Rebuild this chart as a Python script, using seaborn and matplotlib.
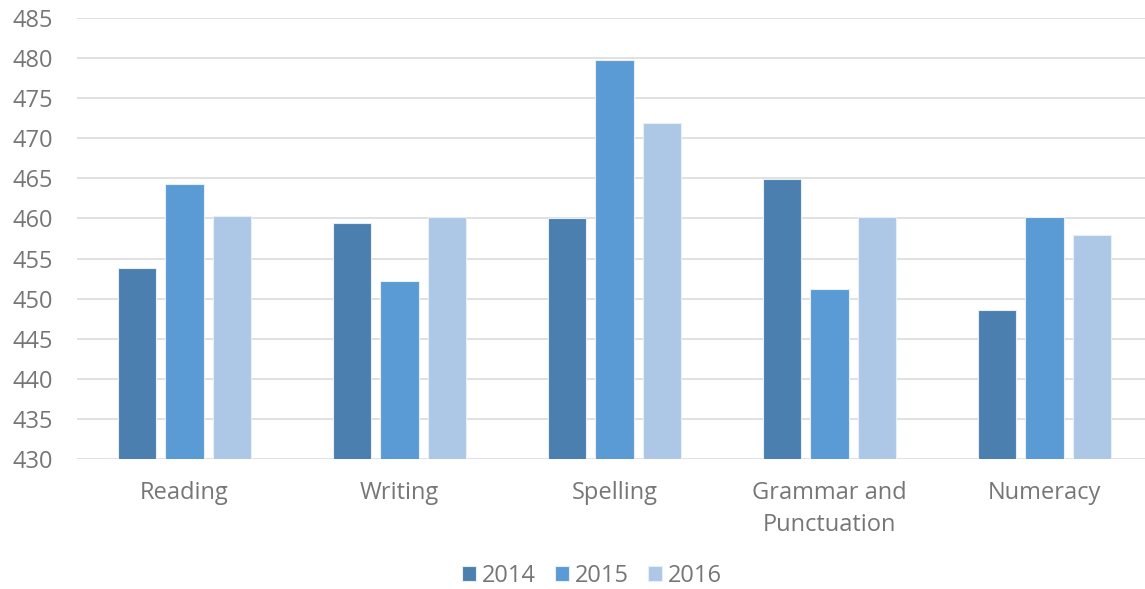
import matplotlib
matplotlib.use("Agg")
import matplotlib.pyplot as plt
import seaborn as sns
import pandas as pd

# Mean scale scores by domain and year
domains = ["Reading", "Writing", "Spelling", "Grammar and\nPunctuation", "Numeracy"]
years = ["2014", "2015", "2016"]
scores_2014 = [453.8, 459.4, 460.0, 464.9, 448.6]
scores_2015 = [464.3, 452.2, 479.8, 451.2, 460.2]
scores_2016 = [460.3, 460.2, 471.9, 460.2, 457.9]
y_ticks = list(range(430, 486, 5))

colors = ["#4A7FAF", "#5B9BD5", "#ADC8E6"]
text_color = "#767676"

rows = []
for yr, vals in zip(years, [scores_2014, scores_2015, scores_2016]):
    for d, v in zip(domains, vals):
        rows.append({"domain": d, "year": yr, "score": v})
df = pd.DataFrame(rows)

sns.set_theme(style="white")
plt.rcParams["font.family"] = ["Open Sans", "DejaVu Sans"]

fig = plt.figure(figsize=(11.45, 5.89), dpi=100)
ax = fig.add_axes([77 / 1145, 1 - 459 / 589, 1075 / 1145, (459 - 18) / 589])

sns.barplot(data=df, x="domain", y="score", hue="year", order=domains,
            hue_order=years, palette=colors, saturation=1, width=0.667, gap=0.2,
            edgecolor="#e8eef6", linewidth=0.8, ax=ax, zorder=3,
            legend=True)

ax.set_ylim(430, 485)
ax.set_yticks(y_ticks)
ax.set_xlim(-0.5, len(domains) - 0.5)
ax.set_xlabel("")
ax.set_ylabel("")
ax.yaxis.grid(True, color="#d9d9d9", linewidth=1.1, zorder=0)
ax.set_axisbelow(True)
for s in ax.spines.values():
    s.set_visible(False)
ax.tick_params(axis="y", length=0, pad=17, labelsize=17, labelcolor=text_color)
ax.tick_params(axis="x", length=0, pad=16, labelsize=17, labelcolor=text_color)
for lbl in ax.get_xticklabels():
    lbl.set_linespacing(1.45)

handles, labels = ax.get_legend_handles_labels()
ax.get_legend().remove()
fig.legend(handles, labels, loc="center", bbox_to_anchor=(0.517, 1 - 576 / 589),
           ncol=3, frameon=False, fontsize=17, labelcolor=text_color,
           handlelength=0.6, handleheight=0.6, handletextpad=0.25,
           columnspacing=0.8, borderpad=0.1, borderaxespad=0)

fig.savefig("out.png", dpi=100)
